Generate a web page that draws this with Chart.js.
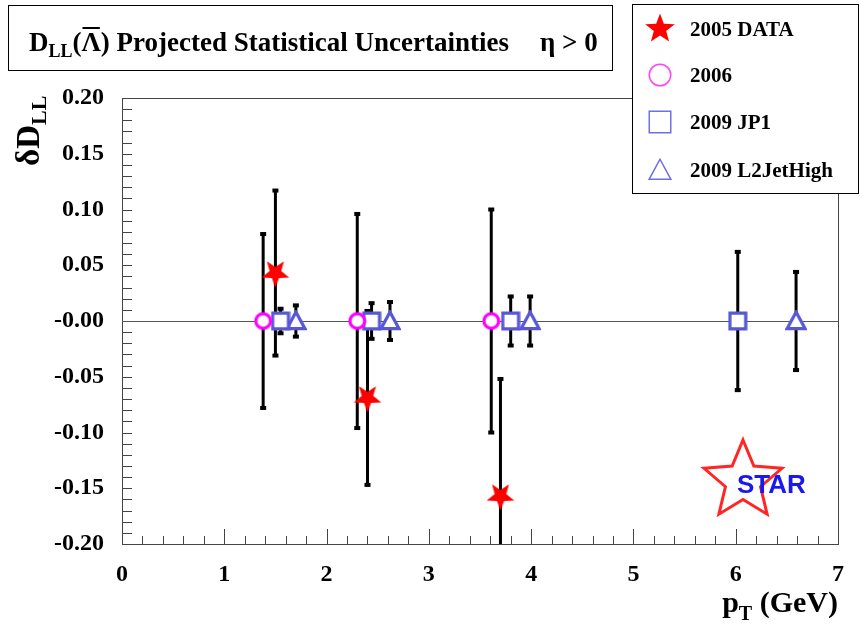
<!DOCTYPE html>
<html>
<head>
<meta charset="utf-8">
<script src="https://cdn.jsdelivr.net/npm/chart.js@4.4.1/dist/chart.umd.min.js"></script>
<style>
html, body { margin: 0; padding: 0; background: #fff; }
canvas { display: block; }
</style>
</head>
<body>
<canvas id="grafico" width="860" height="628"></canvas>
<script>
// valores (pT em GeV, D_LL e incerteza)
const pt2005 = [1.5, 2.4, 3.7];
const val2005 = [0.043, -0.069, -0.157];
const err2005 = [0.074, 0.078, 0.105];

const pt2006 = [1.38, 2.3, 3.61];
const val2006 = [0, 0, 0];
const err2006 = [0.078, 0.096, 0.100];

const ptJP1 = [1.55, 2.44, 3.8, 6.02];
const valJP1 = [0, 0, 0, 0];
const errJP1 = [0.011, 0.016, 0.022, 0.062];

const ptL2 = [1.7, 2.62, 3.99, 6.59];
const valL2 = [0, 0, 0, 0];
const errL2 = [0.014, 0.017, 0.022, 0.044];

const xTickValues = [0, 1, 2, 3, 4, 5, 6, 7];
const yTickValues = [-0.20, -0.15, -0.10, -0.05, 0, 0.05, 0.10, 0.15, 0.20];

const serif = '"Liberation Serif", "Times New Roman", serif';
const blue = 'rgb(88,88,214)';

// desenha um marcador num canvas pequeno para usar como pointStyle
function marcador(tipo, tam, cor, lw, pontaBaixo) {
    const c = document.createElement('canvas');
    c.width = tam; c.height = tam;
    const g = c.getContext('2d');
    const m = tam / 2;
    g.lineWidth = lw;
    g.strokeStyle = cor;
    g.fillStyle = '#fff';
    g.beginPath();
    if (tipo === 'star') {
        const R = m - 0.5, r = R * 0.42;
        const base = pontaBaixo ? Math.PI / 2 : -Math.PI / 2;
        for (let i = 0; i < 10; i++) {
            const a = base + i * Math.PI / 5;
            const rr = i % 2 === 0 ? R : r;
            g.lineTo(m + rr * Math.cos(a), m + rr * Math.sin(a));
        }
        g.closePath();
        g.fillStyle = cor;
        g.fill();
        return c;
    }
    if (tipo === 'circle') {
        g.arc(m, m, m - lw / 2 - 0.5, 0, Math.PI * 2);
    } else if (tipo === 'square') {
        const h = m - lw / 2 - 0.5;
        g.rect(m - h, m - h, 2 * h, 2 * h);
    } else if (tipo === 'triangle') {
        const h = m - lw / 2 - 0.5;
        g.moveTo(m, m - h);
        g.lineTo(m + h, m + h * 0.85);
        g.lineTo(m - h, m + h * 0.85);
        g.closePath();
    }
    g.fill();
    g.stroke();
    return c;
}

function pontos(xs, ys) {
    return xs.map((v, i) => ({ x: v, y: ys[i] }));
}

const datasets = [
    { label: '2005 DATA', data: pontos(pt2005, val2005), errors: err2005,
      pointStyle: marcador('star', 30, 'red', 0, true), legendMarker: marcador('star', 32, 'red', 0, false) },
    { label: '2006', data: pontos(pt2006, val2006), errors: err2006,
      pointStyle: marcador('circle', 19, '#ff00ff', 3.2), legendMarker: marcador('circle', 24, '#ff44ff', 1.5) },
    { label: '2009 JP1', data: pontos(ptJP1, valJP1), errors: errJP1,
      pointStyle: marcador('square', 20, blue, 3.2), legendMarker: marcador('square', 24, 'rgb(110,110,230)', 1.5) },
    { label: '2009 L2JetHigh', data: pontos(ptL2, valL2), errors: errL2,
      pointStyle: marcador('triangle', 22, blue, 3.2), legendMarker: marcador('triangle', 24, 'rgb(110,110,230)', 1.5) }
];
datasets.forEach(d => { d.showLine = false; d.pointRadius = 10; });

// moldura, linha do zero, marcas dos eixos, barras de erro e logo
const fundo = {
    id: 'fundo',
    beforeDatasetsDraw(chart) {
        const { ctx, chartArea: a, scales: { x, y } } = chart;
        ctx.save();
        ctx.strokeStyle = '#444';
        ctx.lineWidth = 1;
        ctx.strokeRect(Math.round(a.left) + 0.5, Math.round(a.top) + 0.5, Math.round(a.right - a.left), Math.round(a.bottom - a.top));

        // marcas do eixo x
        ctx.beginPath();
        for (let i = 0; i <= 35; i++) {
            const px = Math.round(x.getPixelForValue(i * 0.2)) + 0.5;
            const len = i % 5 === 0 ? 15 : 8;
            ctx.moveTo(px, a.bottom);
            ctx.lineTo(px, a.bottom - len);
        }
        // marcas do eixo y
        for (let i = 0; i <= 40; i++) {
            const py = Math.round(y.getPixelForValue(-0.2 + i * 0.01)) + 0.5;
            ctx.moveTo(a.left, py);
            ctx.lineTo(a.left + 10, py);
        }
        ctx.stroke();

        // linha do zero
        const y0 = Math.round(y.getPixelForValue(0)) + 0.5;
        ctx.strokeStyle = '#555';
        ctx.beginPath();
        ctx.moveTo(a.left, y0);
        ctx.lineTo(a.right, y0);
        ctx.stroke();

        // logo STAR
        const cx = 743, cy = 481, R = 41, r = R * 0.45;
        ctx.beginPath();
        for (let i = 0; i < 10; i++) {
            const ang = -Math.PI / 2 + i * Math.PI / 5;
            const rr = i % 2 === 0 ? R : r;
            ctx.lineTo(cx + rr * Math.cos(ang), cy + rr * Math.sin(ang));
        }
        ctx.closePath();
        ctx.strokeStyle = 'rgba(255,0,0,0.85)';
        ctx.lineWidth = 3;
        ctx.stroke();
        ctx.fillStyle = 'rgb(25,25,235)';
        ctx.font = 'bold 26px "Liberation Sans", Arial, sans-serif';
        ctx.textBaseline = 'alphabetic';
        ctx.fillText('STAR', 737, 493);

        // barras de erro
        ctx.beginPath();
        ctx.rect(a.left, a.top, a.right - a.left, a.bottom - a.top);
        ctx.clip();
        ctx.strokeStyle = '#000';
        ctx.fillStyle = '#000';
        ctx.lineWidth = 3;
        chart.data.datasets.forEach(ds => {
            ds.data.forEach((p, i) => {
                const e = ds.errors[i];
                const px = x.getPixelForValue(p.x);
                const y1 = y.getPixelForValue(p.y + e);
                const y2 = y.getPixelForValue(p.y - e);
                ctx.beginPath();
                ctx.moveTo(px, y1);
                ctx.lineTo(px, y2);
                ctx.stroke();
                ctx.fillRect(px - 3, y1 - 2, 6, 4);
                ctx.fillRect(px - 3, y2 - 2, 6, 4);
            });
        });
        ctx.restore();
    },
    afterDraw(chart) {
        const ctx = chart.ctx;
        ctx.save();
        ctx.fillStyle = '#000';
        ctx.textBaseline = 'alphabetic';

        // caixa do título
        ctx.fillStyle = '#fff';
        ctx.fillRect(8, 5, 604, 65);
        ctx.strokeStyle = '#000';
        ctx.lineWidth = 1;
        ctx.strokeRect(8.5, 5.5, 604, 65);
        ctx.fillStyle = '#000';
        let x = 29;
        const base = 51;
        const grande = 'bold 27px ' + serif, peq = 'bold 18px ' + serif;
        ctx.font = grande;
        ctx.fillText('D', x, base); x += ctx.measureText('D').width;
        ctx.font = peq;
        ctx.fillText('LL', x, base + 6); x += ctx.measureText('LL').width;
        ctx.font = grande;
        ctx.fillText('(', x, base); x += ctx.measureText('(').width;
        const wl = ctx.measureText('Λ').width;
        ctx.fillText('Λ', x, base);
        ctx.fillRect(x + 1, base - 24, wl - 2, 2);
        x += wl;
        ctx.fillText(')', x, base); x += ctx.measureText(')').width;
        ctx.fillText(' Projected Statistical Uncertainties', x, base);
        ctx.fillText('η > 0', 540, base);

        // legenda
        ctx.fillStyle = '#fff';
        ctx.fillRect(632, 4, 226, 189);
        ctx.strokeStyle = '#000';
        ctx.strokeRect(632.5, 4.5, 226, 189);
        const linhas = [29, 75, 122, 170];
        chart.data.datasets.forEach((ds, i) => {
            const m = ds.legendMarker;
            ctx.drawImage(m, 660 - m.width / 2, linhas[i] - m.height / 2);
            ctx.fillStyle = '#000';
            ctx.font = 'bold 21px ' + serif;
            ctx.fillText(ds.label, 690, linhas[i] + 7);
        });

        // título do eixo y
        ctx.save();
        ctx.translate(39, 166);
        ctx.rotate(-Math.PI / 2);
        ctx.font = 'bold 33px ' + serif;
        ctx.fillText('δD', 0, 0);
        const wd = ctx.measureText('δD').width;
        ctx.font = 'bold 22px ' + serif;
        ctx.fillText('LL', wd, 7);
        ctx.restore();

        // título do eixo x
        ctx.font = 'bold 30px ' + serif;
        const wp = ctx.measureText('p').width, wg = ctx.measureText(' (GeV)').width;
        ctx.font = 'bold 20px ' + serif;
        const wt = ctx.measureText('T').width;
        let xx = 838 - wp - wt - wg;
        ctx.font = 'bold 30px ' + serif;
        ctx.fillText('p', xx, 612);
        ctx.font = 'bold 20px ' + serif;
        ctx.fillText('T', xx + wp, 620);
        ctx.font = 'bold 30px ' + serif;
        ctx.fillText(' (GeV)', xx + wp + wt, 612);
        ctx.restore();
    }
};

const fonteTicks = { family: serif, weight: 'bold', size: 24 };

new Chart(document.getElementById('grafico').getContext('2d'), {
    type: 'scatter',
    data: { datasets: datasets },
    options: {
        responsive: false,
        animation: false,
        layout: { padding: { left: 0, right: 18, top: 98, bottom: 0 } },
        plugins: { legend: { display: false }, tooltip: { enabled: false } },
        scales: {
            x: {
                type: 'linear', min: 0, max: 7,
                afterFit(s) { s.height = 84; },
                afterBuildTicks(s) { s.ticks = xTickValues.map(v => ({ value: v })); },
                grid: { display: false, drawTicks: false },
                border: { display: false },
                ticks: { padding: 16, color: '#000', font: fonteTicks, maxRotation: 0, autoSkip: false,
                         callback: v => String(v) }
            },
            y: {
                type: 'linear', min: -0.2, max: 0.2,
                afterFit(s) { s.width = 122; },
                afterBuildTicks(s) { s.ticks = yTickValues.map(v => ({ value: v })); },
                grid: { display: false, drawTicks: false },
                border: { display: false },
                ticks: { padding: 18, color: '#000', font: fonteTicks, autoSkip: false,
                         callback: v => (Math.abs(v) < 1e-9 ? '-0.00' : v.toFixed(2)) }
            }
        }
    },
    plugins: [fundo]
});
</script>
</body>
</html>
